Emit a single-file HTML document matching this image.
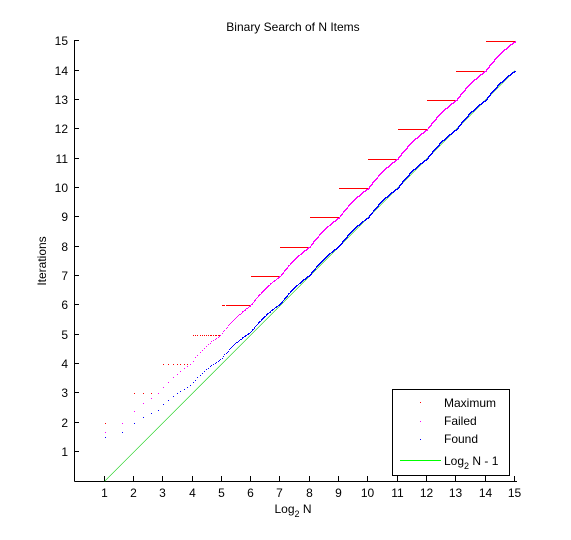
<!DOCTYPE html>
<html><head><meta charset="utf-8"><style>
html,body{margin:0;padding:0;background:#fff;}
svg{display:block;font-family:"Liberation Sans",Arial,sans-serif;}
</style></head><body>
<svg id="chart" width="571" height="540" viewBox="0 0 571 540">
  <text x="293" y="31" font-size="12" text-anchor="middle">Binary Search of N Items</text>
  <g id="axes"></g>
  <g id="marks"></g>
  <text x="293" y="513" font-size="12" text-anchor="middle">Log<tspan font-size="9" dy="4">2</tspan><tspan dy="-4"> N</tspan></text>
  <text transform="translate(46,261) rotate(-90)" font-size="12" text-anchor="middle">Iterations</text>
  <g>
    <rect x="392.5" y="389.5" width="117" height="86" fill="#fff" stroke="#000"/>
    <g><rect x="420" y="402" width="1" height="1" fill="#f00"/><text x="444" y="407" font-size="12">Maximum</text></g>
    <g><rect x="420" y="421" width="1" height="1" fill="#f0f"/><text x="444" y="425" font-size="12">Failed</text></g>
    <g><rect x="420" y="439" width="1" height="1" fill="#00f"/><text x="444" y="443" font-size="12">Found</text></g>
    <g><line x1="400" y1="460.5" x2="441" y2="460.5" stroke="#0f0" stroke-width="1"/><text x="444" y="465" font-size="12">Log<tspan font-size="9" dy="4">2</tspan><tspan dy="-4"> N - 1</tspan></text></g>
  </g>
</svg>
<script>
const xTicks = [1,2,3,4,5,6,7,8,9,10,11,12,13,14,15];
const yTicks = [1,2,3,4,5,6,7,8,9,10,11,12,13,14,15];
const maxExponent = 15;
// item counts N = 2 .. 2^15 - 1, with per-N iteration stats
const itemCounts = [];
const maximumIters = [];
const failedIters = [];
const foundIters = [];
(function(){
  for (let n = 2; n < Math.pow(2, maxExponent); n++) {
    const k = Math.floor(Math.log2(n) + 1e-12);
    let s = 0;
    for (let d = 1; d <= k; d++) s += d * Math.pow(2, d - 1);
    s += (k + 1) * (n - Math.pow(2, k) + 1);
    itemCounts.push(n);
    maximumIters.push(k + 1);
    foundIters.push(s / n);
    failedIters.push((s + n) / (n + 1));
  }
})();
const NS = "http://www.w3.org/2000/svg";
const X0 = 75.3, XS = 29.3, Y0 = 481.3, YS = 29.33;
function xs(v){ return X0 + v * XS; }
function ys(v){ return Y0 - v * YS; }
const axes = document.getElementById('axes');
const marks = document.getElementById('marks');
function mk(tag, attrs, parent){ const e = document.createElementNS(NS, tag); for (const k in attrs) e.setAttribute(k, attrs[k]); parent.appendChild(e); return e; }

const xl = mk('line', {x1:74.5, y1:481.5, x2:517, y2:481.5, stroke:'#000'}, axes);


const yl = mk('line', {x1:74.5, y1:481.5, x2:74.5, y2:40, stroke:'#000'}, axes);


xTicks.forEach(t => {
  const x = Math.round(xs(t)) - 0.5;
  const tk = mk('line', {x1:x, y1:481, x2:x, y2:476, stroke:'#000'}, axes);
  
  
  const lb = mk('text', {x:x, y:497, 'font-size':12, 'text-anchor':'middle'}, axes);
  lb.textContent = t;
  
  
});
yTicks.forEach(t => {
  const y = Math.round(ys(t)) - 0.5;
  const tk = mk('line', {x1:74, y1:y, x2:79, y2:y, stroke:'#000'}, axes);
  
  
  const lb = mk('text', {x:68, y:y + 4.5, 'font-size':12, 'text-anchor':'end'}, axes);
  lb.textContent = t;
  
  
});

// reference line log2 N - 1
const ref = mk('line', {x1:xs(1), y1:ys(0), x2:xs(maxExponent), y2:ys(maxExponent - 1), stroke:'#00cc00', 'stroke-width':0.6}, marks);



function dotPath(values, color, name){
  const seen = new Set();
  let d = '';
  for (let i = 0; i < itemCounts.length; i++) {
    const px = Math.round(xs(Math.log2(itemCounts[i])));
    const py = Math.round(ys(values[i]));
    const key = px * 1000 + py;
    if (seen.has(key)) continue;
    seen.add(key);
    d += 'M' + px + ' ' + py + 'h1v1h-1z';
  }
  const p = mk('path', {d:d, fill:color}, marks);
  
  
}
dotPath(maximumIters, '#f00', 'maximum-series');
dotPath(failedIters, '#f0f', 'failed-series');
dotPath(foundIters, '#00f', 'found-series');
</script>
</body></html>
